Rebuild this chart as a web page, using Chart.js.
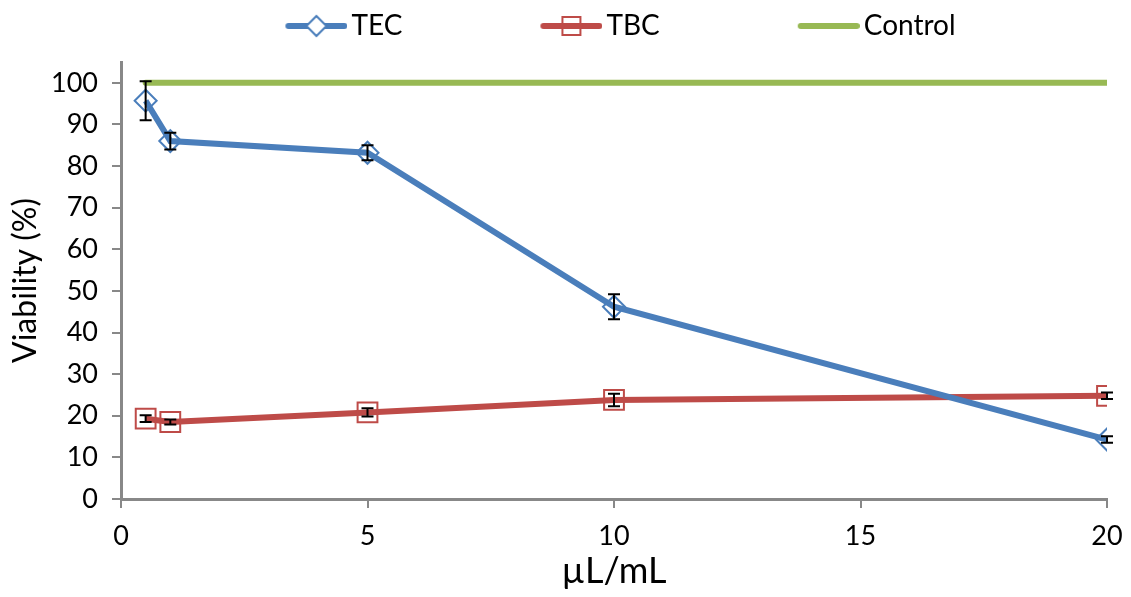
<!DOCTYPE html>
<html>
<head>
<meta charset="utf-8">
<script src="https://cdn.jsdelivr.net/npm/chart.js@4.4.0/dist/chart.umd.min.js"></script>
<style>
    html, body { margin: 0; padding: 0; background: #fff; }
</style>
</head>
<body>
<canvas id="viabilityChart" width="1131" height="597"></canvas>
<script>
// Data
const doses = [0.5, 1, 5, 10, 20];
const tecValues = [95.7, 86.0, 83.2, 46.2, 14.3];
const tecErrors = [4.7, 2.0, 1.8, 3.0, 0.8];
const tbcValues = [19.3, 18.5, 20.8, 23.8, 24.8];
const tbcErrors = [0.8, 0.6, 1.0, 1.5, 0.8];
const controlValues = [100, 100, 100, 100, 100];
const yTickValues = [0, 10, 20, 30, 40, 50, 60, 70, 80, 90, 100];
const xTickValues = [0, 5, 10, 15, 20];

const FONT = 'Lato, "Open Sans", sans-serif';
const AXIS_GREY = '#888888';
const ICON_BOX = 180;          // legend box width (spaces the items out)
const ICON_W = ICON_BOX + 20;  // icon image is a bit wider than the box

function toPoints(values) {
    return doses.map(function(d, i) { return { x: d, y: values[i] }; });
}

// Line + marker icon for the legend, drawn at the right end of the image
function legendIcon(color, marker) {
    const c = document.createElement('canvas');
    c.width = ICON_W;
    c.height = 26;
    const ctx = c.getContext('2d');
    const x1 = ICON_W - 3;
    const x0 = x1 - 56;
    const mid = (x0 + x1) / 2;
    ctx.strokeStyle = color;
    ctx.lineWidth = 6;
    ctx.lineCap = 'round';
    ctx.beginPath();
    ctx.moveTo(x0, 13);
    ctx.lineTo(x1, 13);
    ctx.stroke();
    ctx.lineWidth = 2;
    ctx.fillStyle = '#fff';
    if (marker === 'diamond') {
        ctx.beginPath();
        ctx.moveTo(mid, 3);
        ctx.lineTo(mid + 10, 13);
        ctx.lineTo(mid, 23);
        ctx.lineTo(mid - 10, 13);
        ctx.closePath();
        ctx.fill();
        ctx.stroke();
    } else if (marker === 'square') {
        ctx.fillRect(mid - 9, 4, 18, 18);
        ctx.strokeRect(mid - 9, 4, 18, 18);
        ctx.strokeStyle = color;
        ctx.lineWidth = 6;
        ctx.beginPath();
        ctx.moveTo(mid - 9, 13);
        ctx.lineTo(mid + 9, 13);
        ctx.stroke();
    }
    return c;
}

// Error bars drawn through the chart's own scales
const errorBars = {
    id: 'errorBars',
    afterDatasetsDraw: function(chart) {
        const ctx = chart.ctx;
        const xScale = chart.scales.x;
        const yScale = chart.scales.y;
        ctx.save();
        ctx.strokeStyle = '#000';
        ctx.lineWidth = 2;
        chart.data.datasets.forEach(function(ds) {
            if (!ds.errors) return;
            ds.data.forEach(function(p, i) {
                const px = xScale.getPixelForValue(p.x);
                const top = yScale.getPixelForValue(p.y + ds.errors[i]);
                const bottom = yScale.getPixelForValue(p.y - ds.errors[i]);
                ctx.beginPath();
                ctx.moveTo(px, top);
                ctx.lineTo(px, bottom);
                ctx.moveTo(px - 6, top);
                ctx.lineTo(px + 6, top);
                ctx.moveTo(px - 6, bottom);
                ctx.lineTo(px + 6, bottom);
                ctx.stroke();
            });
        });
        ctx.restore();
    }
};

// Give the legend a fixed height so the plot starts where it does in the reference
const legendHeight = {
    id: 'legendHeight',
    afterInit: function(chart) {
        const legend = chart.legend;
        const fit = legend.fit;
        legend.fit = function() {
            fit.call(legend);
            legend.height = 60;
        };
    }
};

const icons = {
    TEC: legendIcon('#4a7ebb', 'diamond'),
    TBC: legendIcon('#be4b48', 'square'),
    Control: legendIcon('#98b954', 'none')
};

new Chart(document.getElementById('viabilityChart'), {
    type: 'line',
    data: {
        datasets: [{
            label: 'TEC',
            data: toPoints(tecValues),
            errors: tecErrors,
            borderColor: '#4a7ebb',
            borderWidth: 6,
            pointStyle: 'rectRot',
            pointRadius: 11,
            pointBorderWidth: 2,
            pointBorderColor: '#4a7ebb',
            pointBackgroundColor: 'rgba(255,255,255,0)',
            tension: 0
        }, {
            label: 'TBC',
            data: toPoints(tbcValues),
            errors: tbcErrors,
            borderColor: '#be4b48',
            borderWidth: 6,
            pointStyle: 'rect',
            pointRadius: 14,
            pointBorderWidth: 2,
            pointBorderColor: '#be4b48',
            pointBackgroundColor: 'rgba(255,255,255,0)',
            tension: 0
        }, {
            label: 'Control',
            data: toPoints(controlValues),
            borderColor: '#98b954',
            borderWidth: 6,
            borderCapStyle: 'round',
            pointRadius: 0,
            tension: 0
        }]
    },
    options: {
        responsive: false,
        animation: false,
        layout: {
            padding: { top: 2, right: 24, left: 6, bottom: 4 }
        },
        plugins: {
            tooltip: { enabled: false },
            legend: {
                position: 'top',
                labels: {
                    color: '#000',
                    font: { family: FONT, size: 28 },
                    usePointStyle: true,
                    pointStyleWidth: ICON_BOX,
                    padding: 10,
                    generateLabels: function(chart) {
                        return chart.data.datasets.map(function(ds, i) {
                            return {
                                text: ds.label,
                                pointStyle: icons[ds.label],
                                fillStyle: ds.borderColor,
                                strokeStyle: ds.borderColor,
                                lineWidth: 0,
                                hidden: false,
                                datasetIndex: i
                            };
                        });
                    }
                }
            }
        },
        scales: {
            x: {
                type: 'linear',
                min: 0,
                max: 20,
                afterBuildTicks: function(scale) {
                    scale.ticks = xTickValues.map(function(v) { return { value: v }; });
                },
                afterFit: function(scale) {
                    scale.height = 94;
                    scale.paddingRight = 0;
                },
                grid: {
                    drawOnChartArea: false,
                    drawTicks: true,
                    tickLength: 9,
                    color: AXIS_GREY,
                    lineWidth: 2
                },
                border: { color: AXIS_GREY, width: 3 },
                ticks: {
                    color: '#000',
                    font: { family: FONT, size: 27 },
                    padding: 12
                },
                title: {
                    display: true,
                    text: 'µL/mL',
                    color: '#000',
                    font: { family: FONT, size: 36 },
                    padding: { top: 0, bottom: 0 }
                }
            },
            y: {
                min: 0,
                max: 105,
                afterBuildTicks: function(scale) {
                    scale.ticks = yTickValues.map(function(v) { return { value: v }; });
                },
                afterFit: function(scale) { scale.width = 115; },
                grid: {
                    drawOnChartArea: false,
                    drawTicks: true,
                    tickLength: 9,
                    color: AXIS_GREY,
                    lineWidth: 2
                },
                border: { color: AXIS_GREY, width: 3 },
                ticks: {
                    color: '#000',
                    font: { family: FONT, size: 27 },
                    padding: 14
                },
                title: {
                    display: true,
                    text: 'Viability (%)',
                    color: '#000',
                    font: { family: FONT, size: 32 },
                    padding: { top: 0, bottom: 0 }
                }
            }
        }
    },
    plugins: [errorBars, legendHeight]
});
</script>
</body>
</html>
